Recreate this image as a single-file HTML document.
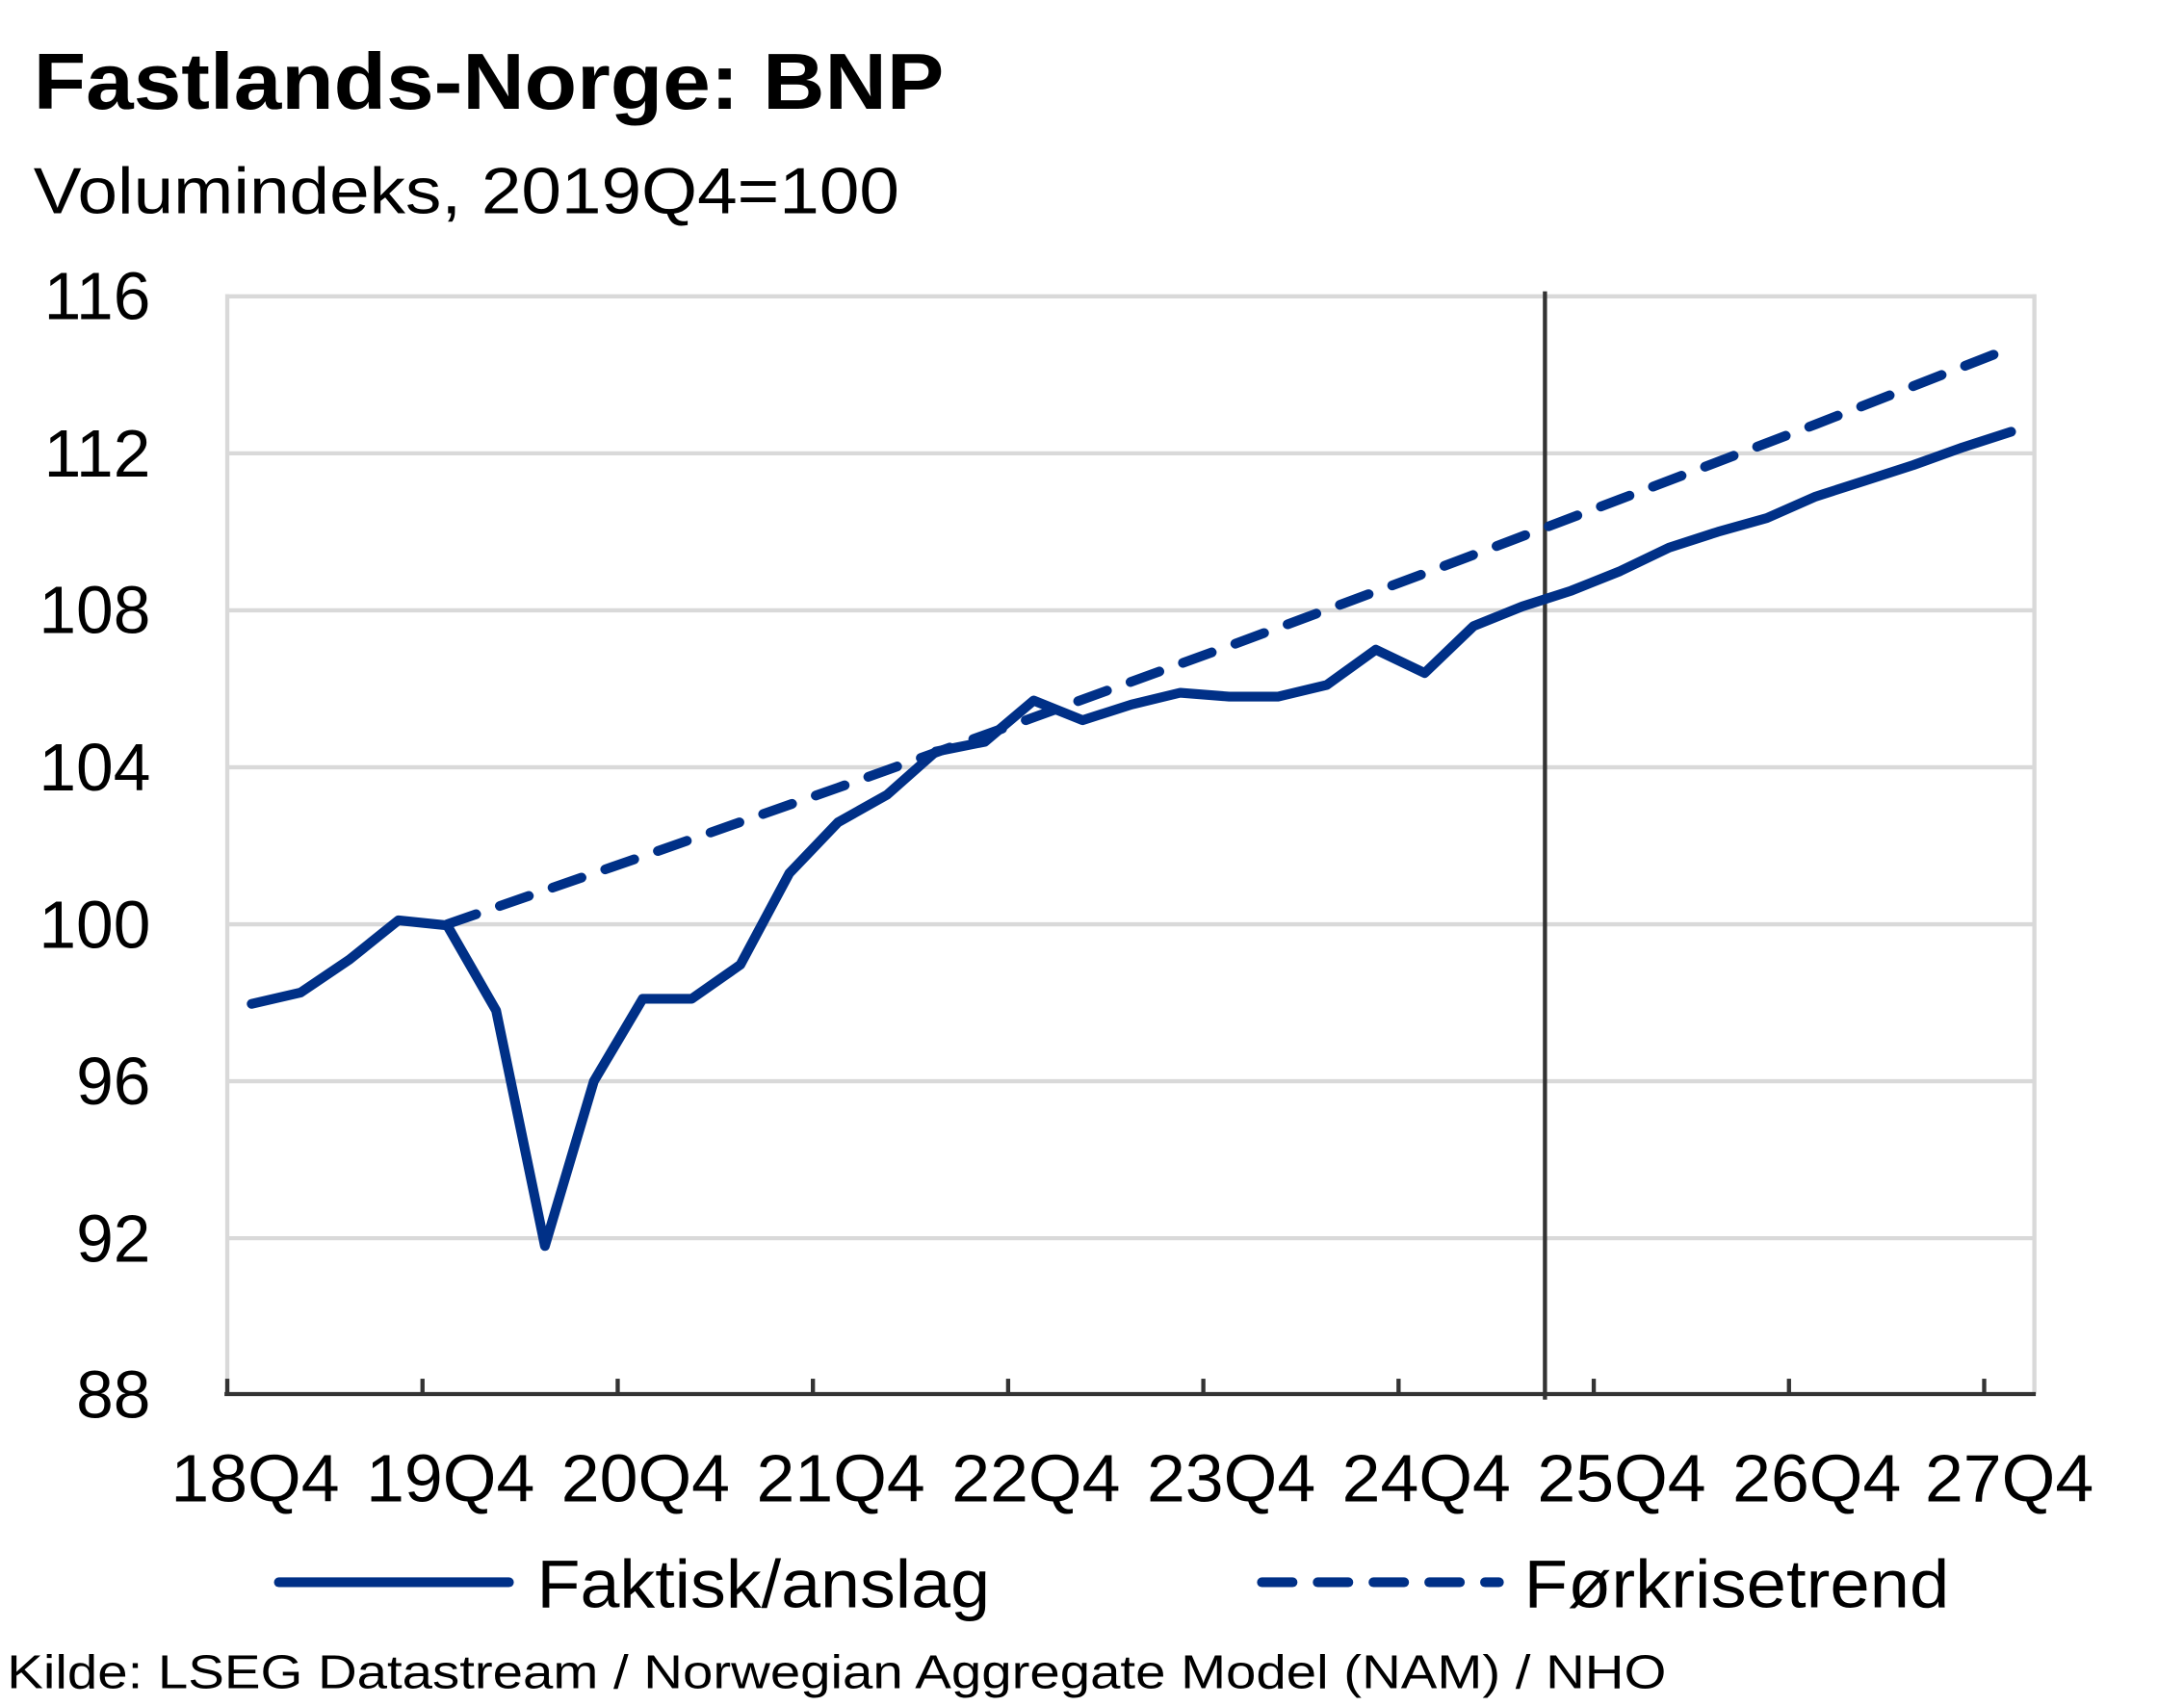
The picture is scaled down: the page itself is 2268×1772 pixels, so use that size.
<!DOCTYPE html>
<html><head><meta charset="utf-8"><style>
html,body{margin:0;padding:0;background:#fff;}
svg{display:block;}
text{font-family:"Liberation Sans",sans-serif;fill:#000;}
</style></head><body>
<svg width="2268" height="1772" viewBox="0 0 2268 1772" xmlns="http://www.w3.org/2000/svg">
<rect width="2268" height="1772" fill="#fff"/>
<g transform="scale(1.448)">
<text x="24" y="78" font-size="57" font-weight="bold" textLength="653" lengthAdjust="spacingAndGlyphs">Fastlands-Norge: BNP</text>
<text x="24" y="153" font-size="47" textLength="621" lengthAdjust="spacingAndGlyphs">Volumindeks,  2019Q4=100</text>
<g stroke="#d9d9d9" stroke-width="3" fill="none">
<line x1="163" y1="212.6" x2="1460" y2="212.6"/>
<line x1="163" y1="325.2" x2="1460" y2="325.2"/>
<line x1="163" y1="437.8" x2="1460" y2="437.8"/>
<line x1="163" y1="550.4" x2="1460" y2="550.4"/>
<line x1="163" y1="663" x2="1460" y2="663"/>
<line x1="163" y1="775.6" x2="1460" y2="775.6"/>
<line x1="163" y1="888.2" x2="1460" y2="888.2"/>
<line x1="163" y1="211" x2="163" y2="1000"/>
<line x1="1459" y1="211" x2="1459" y2="1000"/>
</g>
<g font-size="48" text-anchor="end">
<text x="108" y="229">116</text>
<text x="108" y="342">112</text>
<text x="108" y="454">108</text>
<text x="108" y="567">104</text>
<text x="108" y="680">100</text>
<text x="108" y="792">96</text>
<text x="108" y="905">92</text>
<text x="108" y="1017">88</text>
</g>
<g stroke="#333" stroke-width="3">
<line x1="161" y1="1000" x2="1460" y2="1000"/>
<line x1="163" y1="989" x2="163" y2="1000"/>
<line x1="303" y1="989" x2="303" y2="1000"/>
<line x1="443" y1="989" x2="443" y2="1000"/>
<line x1="583" y1="989" x2="583" y2="1000"/>
<line x1="723" y1="989" x2="723" y2="1000"/>
<line x1="863" y1="989" x2="863" y2="1000"/>
<line x1="1003" y1="989" x2="1003" y2="1000"/>
<line x1="1143" y1="989" x2="1143" y2="1000"/>
<line x1="1283" y1="989" x2="1283" y2="1000"/>
<line x1="1423" y1="989" x2="1423" y2="1000"/>
<line x1="1108" y1="209" x2="1108" y2="1004"/>
</g>
<g font-size="48" text-anchor="middle">
<text x="183" y="1077" textLength="121" lengthAdjust="spacingAndGlyphs">18Q4</text>
<text x="323" y="1077" textLength="121" lengthAdjust="spacingAndGlyphs">19Q4</text>
<text x="463" y="1077" textLength="121" lengthAdjust="spacingAndGlyphs">20Q4</text>
<text x="603" y="1077" textLength="121" lengthAdjust="spacingAndGlyphs">21Q4</text>
<text x="743" y="1077" textLength="121" lengthAdjust="spacingAndGlyphs">22Q4</text>
<text x="883" y="1077" textLength="121" lengthAdjust="spacingAndGlyphs">23Q4</text>
<text x="1023" y="1077" textLength="121" lengthAdjust="spacingAndGlyphs">24Q4</text>
<text x="1163" y="1077" textLength="121" lengthAdjust="spacingAndGlyphs">25Q4</text>
<text x="1303" y="1077" textLength="121" lengthAdjust="spacingAndGlyphs">26Q4</text>
<text x="1441" y="1077" textLength="121" lengthAdjust="spacingAndGlyphs">27Q4</text>
</g>
<polyline fill="none" stroke="#003087" stroke-width="7" stroke-linecap="round" stroke-linejoin="round" stroke-dasharray="22 18"
points="320.7,663 460.9,614.3 601.1,565 741.3,514.6 881.5,463.4 1021.7,411.3 1161.9,358.1 1302.1,304.4 1442.3,249.5"/>
<polyline fill="none" stroke="#003087" stroke-width="7" stroke-linecap="round" stroke-linejoin="round"
points="180.5,720.1 215.6,712 250.6,688.3 285.7,660.2 320.7,663.8 355.8,724.9 390.8,893.8 425.9,775.6 460.9,716.5 496,716.5 531,692 566.1,626.4 601.1,589.8 636.2,570.1 671.2,539.1 706.3,532.1 741.3,502.5 776.4,516.6 811.4,505.4 846.5,496.9 881.5,499.7 916.6,499.7 951.6,491.3 986.7,466 1021.7,482.8 1056.8,449.1 1091.8,435 1126.9,423.7 1161.9,409.7 1197,392.8 1232,381.5 1267.1,371.6 1302.1,356.2 1337.2,344.9 1372.2,333.6 1407.3,321 1442.3,309.7"/>
<line x1="200" y1="1135" x2="365" y2="1135" stroke="#003087" stroke-width="7" stroke-linecap="round"/>
<text x="385" y="1153" font-size="49" textLength="325" lengthAdjust="spacingAndGlyphs">Faktisk/anslag</text>
<line x1="905" y1="1135" x2="1075" y2="1135" stroke="#003087" stroke-width="7" stroke-linecap="round" stroke-dasharray="22 18"/>
<text x="1093" y="1153" font-size="49" textLength="305" lengthAdjust="spacingAndGlyphs">Førkrisetrend</text>
<text x="5" y="1211" font-size="34" textLength="1190" lengthAdjust="spacingAndGlyphs">Kilde:  LSEG Datastream  / Norwegian  Aggregate  Model (NAM)  / NHO</text>
</g>
</svg>
</body></html>
